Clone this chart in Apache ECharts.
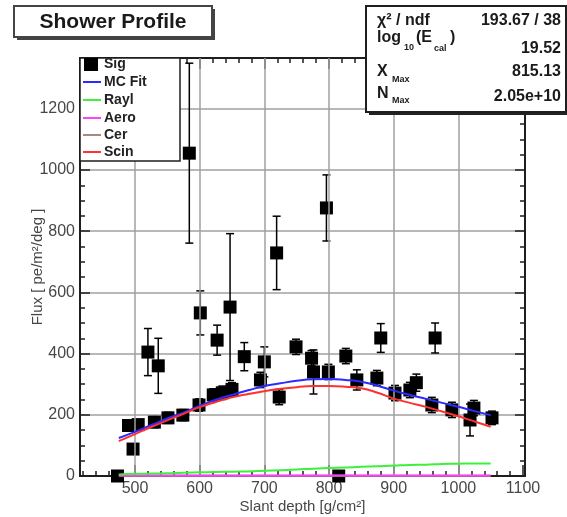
<!DOCTYPE html>
<html>
<head>
<meta charset="utf-8">
<script src="https://cdn.jsdelivr.net/npm/echarts@6/dist/echarts.min.js"></script>
<style>
  html, body { margin: 0; padding: 0; background: #fff; }
  #chart { width: 567px; height: 517px; }
</style>
</head>
<body>
<div id="chart"></div>
<script>
// Reconstructed signal (slant depth, flux, flux error)
const sigDepth = [473, 490, 497, 505, 520, 530, 536, 551, 574, 584, 599, 601, 621, 627, 635, 647, 650, 669, 694, 700, 719, 723, 749, 773, 776, 796, 799, 815, 826, 843, 874, 880, 902, 925, 935, 959, 964, 990, 1018, 1024, 1052];
const sigFlux  = [0, 165, 88, 168, 405, 176, 360, 190, 199, 1055, 232, 533, 265, 444, 272, 552, 283, 390, 314, 373, 729, 258, 422, 385, 340, 876, 340, 0, 392, 314, 320, 451, 271, 281, 305, 232, 451, 216, 183, 222, 190];
const sigErr   = [0, 15, 15, 15, 77, 18, 90, 18, 18, 294, 20, 72, 20, 49, 22, 240, 22, 46, 25, 49, 120, 25, 25, 25, 72, 108, 25, 0, 25, 33, 25, 47, 25, 25, 28, 25, 49, 25, 52, 25, 22];

// Fitted light components sampled along the slant depth
const fitDepth = [475, 500, 525, 550, 575, 600, 625, 650, 675, 700, 725, 750, 775, 800, 825, 850, 875, 900, 925, 950, 975, 1000, 1025, 1050];
const mcFit = [124, 144, 166, 188, 207, 229, 249, 265, 280, 294, 303, 311, 316, 317, 314, 308, 295, 279, 265, 252, 239, 226, 212, 199];
const scin  = [114, 137, 160, 182, 203, 225, 242, 257, 268, 277, 285, 290, 294, 294, 292, 287, 272, 253, 239, 226, 211, 195, 178, 161];
const rayl  = [5, 7, 8, 9, 11, 12, 13, 14, 15, 17, 19, 21, 24, 26, 28, 30, 32, 34, 36, 37, 39, 40, 41, 41];
const aero  = [1.5, 1.5, 1.5, 1.5, 1.5, 1.5, 1.5, 1.5, 1.5, 1.5, 1.5, 1.5, 1.5, 1.5, 1.5, 1.5, 1.5, 1.5, 1.5, 1.5, 1.5, 1.5, 1.5, 1.5];
const cer   = [0.5, 0.5, 0.5, 0.5, 0.5, 0.5, 0.5, 0.5, 0.5, 0.5, 0.5, 0.5, 0.5, 0.5, 0.5, 0.5, 0.5, 0.5, 0.5, 0.5, 0.5, 0.5, 0.5, 0.5];

// Axis ticks
const xMajorTicks = [500, 600, 700, 800, 900, 1000, 1100];
const xMinorTicks = [420, 440, 460, 480, 520, 540, 560, 580, 620, 640, 660, 680, 720, 740, 760, 780, 820, 840, 860, 880, 920, 940, 960, 980, 1020, 1040, 1060, 1080, 1100];
const xGridLines = [500, 600, 700, 800, 900, 1000];
const xRange = [415, 1103];
const yRange = [0, 1366];

// Fit statistics
const statsRows = [
  { label: 'χ² / ndf', value: '193.67 / 38' },
  { label: 'log', value: '19.52' },
  { label: 'X', value: '815.13' },
  { label: 'N', value: '2.05e+10' }
];

const FONT = '"Liberation Sans", Arial, Helvetica, sans-serif';
const AXIS_GRAY = '#474747';
const FRAME = '#1e1e1e';
const GRID_GRAY = '#a0a0a0';
const TOP_Z = 100;

const pair = (xs, ys) => xs.map((x, i) => [x, ys[i]]);
const sigData = sigDepth.map((x, i) => [x, sigFlux[i], sigErr[i]]);

function xAxisCfg(position, ticks, len, withLabels) {
  return {
    type: 'value', min: xRange[0], max: xRange[1], position: position,
    axisLine: { show: true, onZero: false, lineStyle: { color: FRAME, width: 2 } },
    axisTick: { show: true, inside: true, length: len, customValues: ticks, lineStyle: { color: FRAME, width: 1.5 } },
    axisLabel: withLabels ? {
      show: true, customValues: xMajorTicks, color: AXIS_GRAY, fontSize: 16, fontFamily: FONT, margin: 5,
      formatter: v => String(v)
    } : { show: false },
    splitLine: { show: false }
  };
}

function yAxisCfg(position, withLabels) {
  return {
    type: 'value', min: yRange[0], max: yRange[1], interval: 200, position: position,
    axisLine: { show: true, onZero: false, lineStyle: { color: FRAME, width: 2 } },
    axisTick: { show: true, inside: true, length: 10, lineStyle: { color: FRAME, width: 1.5 } },
    minorTick: { show: true, splitNumber: 4, length: 5, lineStyle: { color: FRAME, width: 1.5 } },
    axisLabel: withLabels ? {
      show: true, color: AXIS_GRAY, fontSize: 16, fontFamily: FONT, margin: 5, showMaxLabel: false,
      formatter: v => (v % 200 === 0 ? String(v) : '')
    } : { show: false },
    splitLine: { show: withLabels, lineStyle: { color: GRID_GRAY, width: 1.5 } }
  };
}

const xAxes = [
  xAxisCfg('bottom', xMajorTicks, 11, true),
  xAxisCfg('bottom', xMinorTicks, 5, false),
  xAxisCfg('top', xMajorTicks, 11, false),
  xAxisCfg('top', xMinorTicks, 5, false)
];
xAxes[0].name = 'Slant depth [g/cm²]';
xAxes[0].nameLocation = 'middle';
xAxes[0].nameGap = 23;
xAxes[0].nameMoveOverlap = false;
xAxes[0].nameTextStyle = { color: AXIS_GRAY, fontSize: 15, fontFamily: FONT };

const yAxes = [yAxisCfg('left', true), yAxisCfg('right', false)];
yAxes[0].name = 'Flux [ pe/m²/deg ]';
yAxes[0].nameLocation = 'middle';
yAxes[0].nameGap = 35;
yAxes[0].nameMoveOverlap = false;
yAxes[0].nameTextStyle = { color: AXIS_GRAY, fontSize: 15, fontFamily: FONT };

function lineSeries(name, values, color, z) {
  return {
    name: name, type: 'line', data: pair(fitDepth, values), smooth: true,
    showSymbol: false, symbol: 'none', z: z,
    lineStyle: { color: color, width: 2 }, itemStyle: { color: color },
    silent: true, animation: false
  };
}

// Legend drawn as a framed panel in the upper-left of the plot
const legendEntries = [
  { name: 'Sig', kind: 'box', color: '#000' },
  { name: 'MC Fit', kind: 'line', color: '#2b2bff' },
  { name: 'Rayl', kind: 'line', color: '#3cf03c' },
  { name: 'Aero', kind: 'line', color: '#ff40ff' },
  { name: 'Cer', kind: 'line', color: '#a88a7c' },
  { name: 'Scin', kind: 'line', color: '#ff3030' }
];
const legendRowY = [64, 82, 100, 118, 135, 152];

const legendChildren = [{
  type: 'rect', z: TOP_Z, shape: { x: 80, y: 58, width: 100, height: 103 },
  style: { fill: '#fff', stroke: FRAME, lineWidth: 1.5 }
}];
legendEntries.forEach((e, i) => {
  const cy = legendRowY[i];
  if (e.kind === 'box') {
    legendChildren.push({ type: 'rect', z: TOP_Z + 1, shape: { x: 84, y: cy - 6, width: 14, height: 13 }, style: { fill: e.color } });
  } else {
    legendChildren.push({ type: 'line', z: TOP_Z + 1, shape: { x1: 83, y1: cy, x2: 101, y2: cy }, style: { stroke: e.color, lineWidth: 2 } });
  }
  legendChildren.push({
    type: 'text', z: TOP_Z + 1, x: 104, y: cy,
    style: { text: e.name, fill: '#222', font: 'bold 14px ' + FONT, textVerticalAlign: 'middle', textAlign: 'left' }
  });
});

// Title panel
const titleChildren = [
  { type: 'rect', z: TOP_Z, shape: { x: 17, y: 9, width: 198, height: 31 }, style: { fill: '#444' } },
  { type: 'rect', z: TOP_Z + 1, shape: { x: 14, y: 6, width: 198, height: 31 }, style: { fill: '#fff', stroke: '#444', lineWidth: 2 } },
  { type: 'text', z: TOP_Z + 2, x: 113, y: 22, style: { text: 'Shower Profile', fill: '#1a1a1a', font: 'bold 21px ' + FONT, textAlign: 'center', textVerticalAlign: 'middle' } }
];

// Statistics panel
const statFont = 'bold 16px ' + FONT;
const subFont = 'bold 9px ' + FONT;
const statValueY = [21, 49, 72, 97];
const statsChildren = [
  { type: 'rect', z: TOP_Z, shape: { x: 369, y: 9, width: 200, height: 106 }, style: { fill: '#222' } },
  { type: 'rect', z: TOP_Z + 1, shape: { x: 366, y: 6, width: 200, height: 106 }, style: { fill: '#fff', stroke: FRAME, lineWidth: 2 } }
];
statsRows.forEach((r, i) => {
  statsChildren.push({
    type: 'text', z: TOP_Z + 2, x: 561, y: statValueY[i],
    style: { text: r.value, fill: '#1a1a1a', font: statFont, textAlign: 'right', textVerticalAlign: 'middle' }
  });
});
const t = (x, y, s, f) => ({ type: 'text', z: TOP_Z + 2, x: x, y: y, style: { text: s, fill: '#1a1a1a', font: f, textAlign: 'left', textVerticalAlign: 'middle' } });
statsChildren.push(
  t(377, 21, statsRows[0].label, statFont),
  t(377, 38, 'log', statFont), t(404, 48, '10', subFont), t(416, 38, '(E', statFont), t(434, 49, 'cal', subFont), t(450, 38, ')', statFont),
  t(377, 72, 'X', statFont), t(392, 80, 'Max', subFont),
  t(377, 94, 'N', statFont), t(392, 101, 'Max', subFont)
);

const option = {
  animation: false,
  backgroundColor: '#fff',
  grid: { left: 80, right: 42, top: 58, bottom: 41, containLabel: false, outerBoundsMode: 'none' },
  xAxis: xAxes,
  yAxis: yAxes,
  series: [
    {
      name: 'gridX', type: 'line', data: [], xAxisIndex: 0, yAxisIndex: 0, z: 1, silent: true,
      markLine: {
        silent: true, symbol: 'none', label: { show: false }, animation: false,
        lineStyle: { color: GRID_GRAY, width: 1.5, type: 'solid' },
        data: xGridLines.map(v => ({ xAxis: v }))
      }
    },
    {
      name: 'Sig', type: 'custom', data: sigData, z: 3, silent: true,
      encode: { x: 0, y: 1 },
      renderItem: function (params, api) {
        const x = api.value(0), y = api.value(1), e = api.value(2);
        const c = api.coord([x, y]);
        const children = [];
        if (e > 0) {
          const top = api.coord([x, y + e]);
          const bot = api.coord([x, y - e]);
          const st = { stroke: '#000', lineWidth: 1.5 };
          children.push(
            { type: 'line', shape: { x1: c[0], y1: top[1], x2: c[0], y2: bot[1] }, style: st },
            { type: 'line', shape: { x1: c[0] - 4, y1: top[1], x2: c[0] + 4, y2: top[1] }, style: st },
            { type: 'line', shape: { x1: c[0] - 4, y1: bot[1], x2: c[0] + 4, y2: bot[1] }, style: st }
          );
        }
        children.push({ type: 'rect', shape: { x: c[0] - 6.5, y: c[1] - 6.5, width: 13, height: 13 }, style: { fill: '#000' } });
        return { type: 'group', children: children };
      }
    },
    lineSeries('Cer', cer, '#a88a7c', 4),
    lineSeries('Aero', aero, '#ff40ff', 5),
    lineSeries('Rayl', rayl, '#3cf03c', 6),
    lineSeries('MC Fit', mcFit, '#2b2bff', 7),
    lineSeries('Scin', scin, '#ff3030', 8)
  ],
  graphic: [
    { type: 'group', z: TOP_Z, children: legendChildren },
    { type: 'group', z: TOP_Z, children: titleChildren },
    { type: 'group', z: TOP_Z, children: statsChildren }
  ]
};

const chart = echarts.init(document.getElementById('chart'), null, { renderer: 'canvas' });
chart.setOption(option);
</script>
</body>
</html>
